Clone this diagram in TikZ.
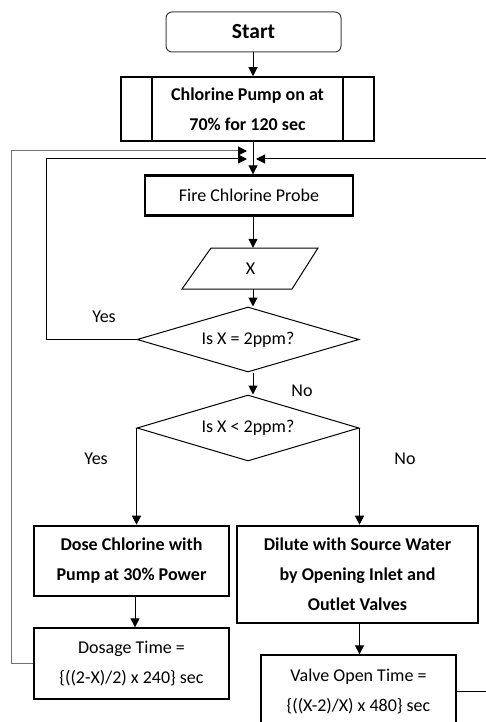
\documentclass[tikz,border=0pt]{standalone}
\usepackage{fontspec}
\setmainfont{Carlito}
\usetikzlibrary{shapes.geometric,arrows.meta}
\newcommand\mytxt{\fontsize{18}{30}\selectfont}
\begin{document}
\begin{tikzpicture}[x=1pt,y=-1pt,
  thinbox/.style={draw, line width=1.3pt, inner sep=0pt, align=center, font=\mytxt},
  thickbox/.style={draw, line width=2.6pt, inner sep=0pt, align=center, font=\mytxt\bfseries},
  decision/.style={diamond, draw, line width=1pt, inner sep=0pt, aspect=3.4, minimum width=222, minimum height=65, font=\mytxt},
  arr/.style={-{Triangle[length=9pt,width=9pt,black]}, line width=1pt},
  lbl/.style={font=\mytxt, inner sep=0pt}
]
\useasboundingbox (0,0) rectangle (486,722);

% nodes
\node[draw=black!75, line width=1pt, rounded corners=6pt, minimum width=175, minimum height=40, inner sep=0pt, font=\fontsize{21.5}{24}\selectfont\bfseries] (Start) at (253.5,32) {Start};
\node[draw, line width=1.5pt, minimum width=253, minimum height=64, inner sep=0pt, align=center, font=\mytxt\bfseries] (Pump) at (247.5,109) {Chlorine Pump on at\\70\% for 120 sec};
\draw[line width=1.5pt] (152,77) -- (152,141) (343,77) -- (343,141);
\node[draw, line width=2.4pt, minimum width=208, minimum height=40, inner sep=0pt, font=\mytxt] (Fire) at (249,195.5) {Fire Chlorine Probe};
\node[lbl, minimum width=110, minimum height=41] (X) at (250.5,268.5) {X};
\draw[line width=1pt] (211,248) -- (318,248) -- (292,289) -- (182,289) -- cycle;
\node[decision] (D1) at (248,339.5) {Is X = 2ppm?};
\node[decision, minimum height=66] (D2) at (248,428) {\raisebox{3pt}{Is X < 2ppm?}};
\node[thickbox, minimum width=195, minimum height=70] (Dose) at (131.5,561) {Dose Chlorine with\\Pump at 30\% Power};
\node[thinbox, minimum width=195, minimum height=71] (Dosage) at (131.5,663.5) {Dosage Time =\\\{((2-X)/2) x 240\} sec};
\node[thickbox, minimum width=241, minimum height=97] (Dilute) at (357.5,574.5) {Dilute with Source Water\\by Opening Inlet and\\Outlet Valves};
\node[thinbox, minimum width=195, minimum height=72] (Valve) at (358.5,691) {Valve Open Time =\\\{((X-2)/X) x 480\} sec};

% labels
\node[lbl] (yes1) at (104,317) {Yes};
\node[lbl] (no1) at (302,391) {No};
\node[lbl] (yes2) at (96,459) {Yes};
\node[lbl] (no2) at (405,459) {No};

% junction coordinates
\coordinate (J) at (253,159);
\coordinate (tipA) at (247,151);
\coordinate (tipB) at (247,159);
\coordinate (tipC) at (256,159);
\coordinate (DX) at (135,0);

% connectors
\draw[arr] (Start.south -| J) -- (J |- Pump.north);
\draw[arr] (Pump.south -| J) -- (J |- Fire.north);
\draw[arr] (Fire.south -| J) -- (J |- X.north);
\draw[arr] (X.south -| J) -- (J |- D1.north);
\draw[arr] (D1.south -| J) -- (J |- D2.north);
\draw[arr] (D2.west) -- (D2.west |- Dose.north);
\draw[arr] (D2.east) -- (D2.east |- Dilute.north);
\draw[arr] (Dose.south -| DX) -- (DX |- Dosage.north);
\draw[arr] (Dilute.south -| D2.east) -- (D2.east |- Valve.north);

\draw[arr, draw=black!55] (Dosage.west) -- ++(-22,0) |- (tipA);
\draw[arr] (D1.west) -- ++(-90,0) |- (tipB);
\draw[arr] (Valve.east) -- ++(40,0) |- (tipC);
\end{tikzpicture}
\end{document}
